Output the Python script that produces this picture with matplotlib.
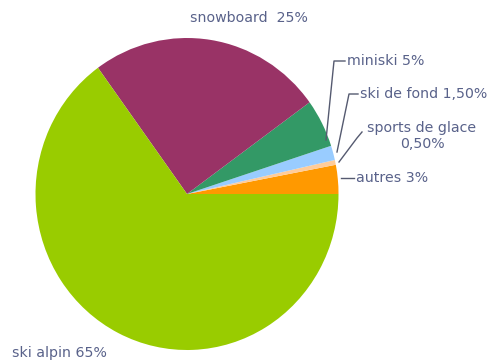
import matplotlib.pyplot as plt
import numpy as np

labels = ["autres", "sports de glace", "ski de fond", "miniski", "snowboard", "ski alpin"]
values = [3, 0.5, 1.5, 5, 25, 65]
pct_text = ["3%", "0,50%", "1,50%", "5%", "25%", "65%"]
colors = ["#ff9900", "#ffcc99", "#99ccff", "#339966", "#993366", "#99cc00"]

W, H = 504, 364
cx, cy, RX, RY = 187, 194, 151.5, 156

def px(x, y):
    # pixel position -> data coords (pie radius = 1)
    return (x - cx) / RX, (cy - y) / RY

fig = plt.figure(figsize=(W / 100, H / 100), dpi=100)
ax = fig.add_axes([0, 0, 1, 1])
wedges, _ = ax.pie(values, colors=colors, startangle=0, counterclock=True,
                   wedgeprops=dict(linewidth=0))
ax.set_aspect("auto")
ax.set_xlim(-cx / RX, (W - cx) / RX)
ax.set_ylim(-(H - cy) / RY, cy / RY)
ax.axis("off")

tc = "#59628a"
lc = "#555a70"
fs = 10.2

# label text positions (pixels)
label_pos = {
    "snowboard": (249, 18, "center"),
    "ski alpin": (12, 353, "left"),
    "miniski": (347, 61, "left"),
    "ski de fond": (360, 94, "left"),
    "sports de glace": (422, 136, "center"),
    "autres": (356, 178, "left"),
}
leader = {
    "miniski": [(345, 61), (334, 61), (326, 140)],
    "ski de fond": [(358, 94), (349, 94), (337, 152)],
    "sports de glace": [(362, 132), (357, 138), (339, 162)],
    "autres": [(354, 178), (341, 178)],
}

for w, lab, pt in zip(wedges, labels, pct_text):
    x, y, ha = label_pos[lab]
    if lab == "snowboard":
        s = lab + "  " + pt
    elif lab == "sports de glace":
        s = lab + "\n" + pt
    else:
        s = lab + " " + pt
    ax.text(*px(x, y), s, ha=ha, va="center", fontsize=fs, color=tc,
            linespacing=1.15)
    if lab in leader:
        pts = np.array([px(a, b) for a, b in leader[lab]])
        ax.plot(pts[:, 0], pts[:, 1], color=lc, lw=1)

fig.savefig("out.png", dpi=100)
